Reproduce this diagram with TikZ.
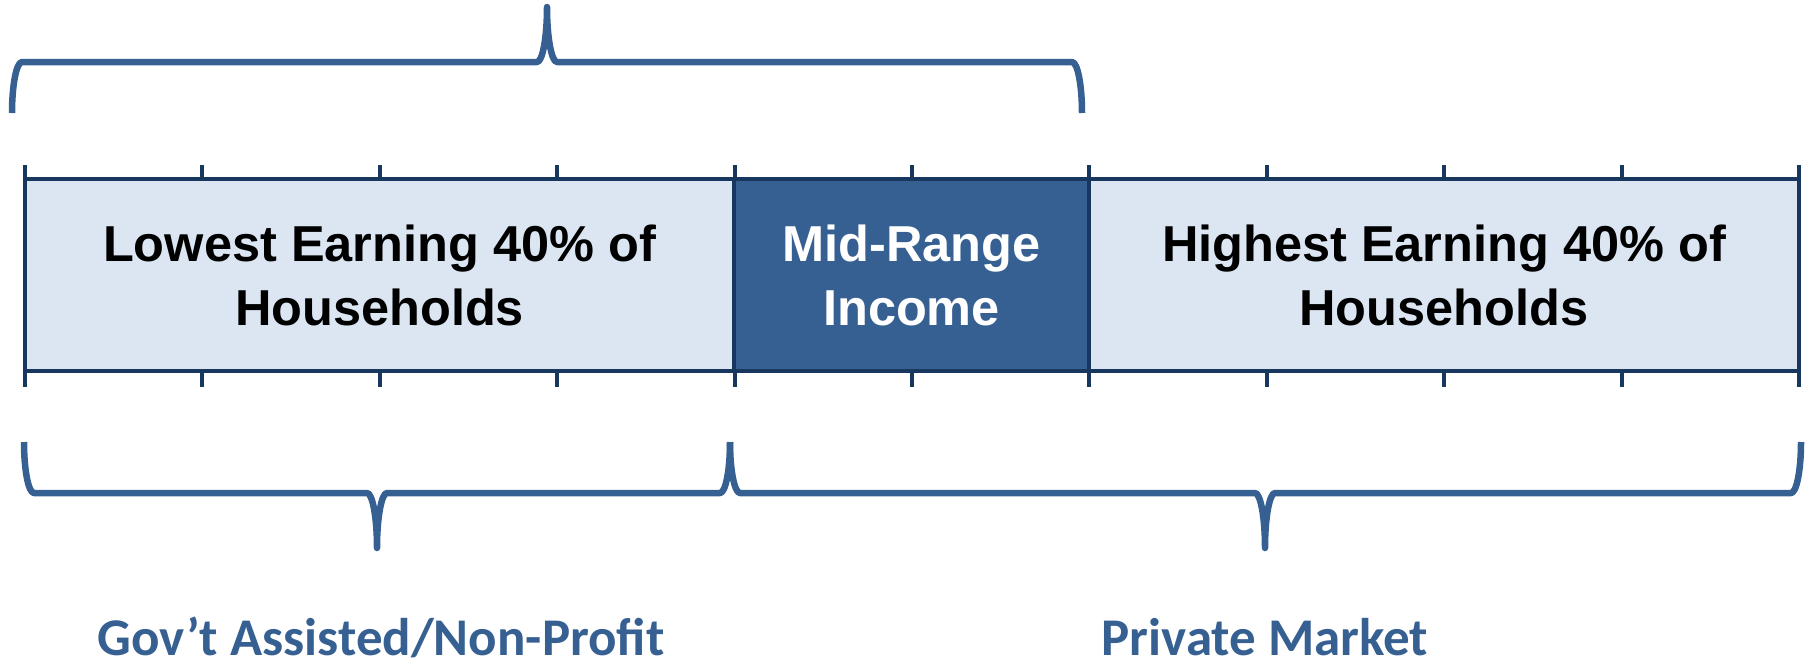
\documentclass[tikz,border=0pt]{standalone}
\usepackage{fontspec}
\setmainfont{Liberation Sans}
\newfontfamily\calib{Carlito}
\definecolor{bracecol}{HTML}{376092}
\definecolor{lightfill}{HTML}{DCE6F2}
\definecolor{darkfill}{HTML}{376092}
\definecolor{edgecol}{HTML}{17375E}
\newcommand{\curlybrace}[6]{% x1, x2, xtip, yend, ybar, ytip
  \pgfmathsetmacro\ka{0.552*(#5-#4)}%
  \pgfmathsetmacro\kb{0.552*(#6-#5)}%
  \draw[bracestroke] (#1,#4) .. controls ({#1},{#4+\ka}) and ({#1+4.5},{#5}) .. ({#1+10},{#5})
    -- ({#3-10},{#5}) .. controls ({#3-4.5},{#5}) and ({#3},{#6-(\kb)}) .. ({#3},{#6})
    .. controls ({#3},{#6-(\kb)}) and ({#3+4.5},{#5}) .. ({#3+10},{#5})
    -- ({#2-10},{#5}) .. controls ({#2-4.5},{#5}) and ({#2},{#4+\ka}) .. ({#2},{#4});%
}
\begin{document}
\begin{tikzpicture}[x=1pt,y=-1pt,
  region/.style={draw=none, minimum height=192pt, inner sep=0pt, align=center,
    font=\fontsize{50.5}{64}\selectfont\bfseries},
  barline/.style={draw=edgecol, line width=4.5pt},
  tickmark/.style={draw=edgecol, line width=4pt},
  bracestroke/.style={draw=bracecol, line width=6.5pt, line join=round},
  grouptext/.style={font=\calib\fontsize{53}{60}\selectfont\bfseries, text=bracecol, anchor=base, inner sep=0pt}
]
\useasboundingbox (0,0) rectangle (1812,665);

% regions
\node[region, fill=lightfill, minimum width=709pt] (low) at (379.5,275) {Lowest Earning 40\% of\\Households};
\node[region, fill=darkfill, text=white, minimum width=355pt] (mid) at (911.5,275) {Mid-Range\\Income};
\node[region, fill=lightfill, minimum width=710pt] (high) at (1444,275) {Highest Earning 40\% of\\Households};

% horizontal edges
\draw[barline] (low.north west) -- (high.north east);
\draw[barline] (low.south west) -- (high.south east);

% ticks
\foreach \k in {0,...,10} {
  \draw[tickmark] ({25+177.4*\k},165) -- ({25+177.4*\k},179);
  \draw[tickmark] ({25+177.4*\k},371) -- ({25+177.4*\k},387);
}
% boundaries
\draw[tickmark] (low.north west) -- (low.south west);
\draw[tickmark] (mid.north west) -- (mid.south west);
\draw[tickmark] (mid.north east) -- (mid.south east);
\draw[tickmark] (high.north east) -- (high.south east);

% braces
\curlybrace{12}{1082}{547}{113}{62}{7}
\curlybrace{24}{730}{377}{442}{493}{548}
\curlybrace{730}{1801}{1265}{442}{493}{548}

% group labels
\node[grouptext] (gov) at (381,655) {Gov’t Assisted/Non-Profit};
\node[grouptext] (priv) at (1265,655) {Private Market};
\end{tikzpicture}
\end{document}
